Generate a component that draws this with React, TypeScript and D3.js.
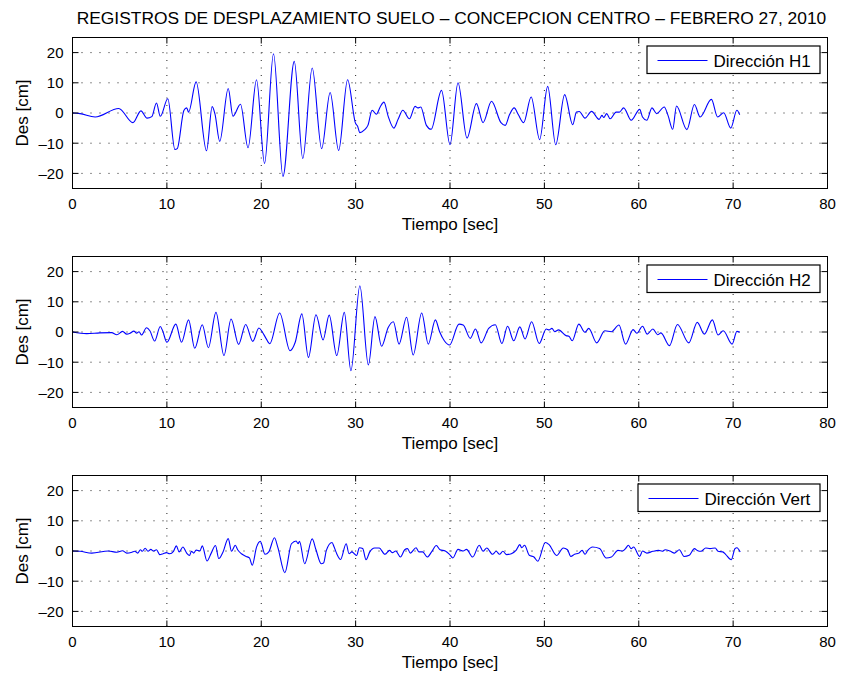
import React from 'react';
import * as d3 from 'd3';

const TITLE = 'REGISTROS DE DESPLAZAMIENTO SUELO \u2013 CONCEPCION CENTRO \u2013 FEBRERO 27, 2010';
const X_LABEL = 'Tiempo [sec]';
const Y_LABEL = 'Des [cm]';
const xTicks = [0, 10, 20, 30, 40, 50, 60, 70, 80];
const yTicks = [-20, -10, 0, 10, 20];
const xDomain = [0, 80];
const yDomain = [-25, 25];

// Dirección H1 (key points: time [s], displacement [cm])
const h1Time = [0, 0.8, 2.4, 4.9, 6.4, 7.25, 7.9, 8.4, 8.9, 9.3, 10.1, 10.85, 11.1, 11.8, 12.1, 12.3, 13.1, 14.2, 14.8, 15.1, 15.6, 16.5, 17.0, 17.8, 18.6, 19.5, 20.35, 21.3, 22.3, 23.5, 24.4, 25.4, 26.4, 27.3, 28.2, 29.15, 30.0, 30.2, 30.45, 30.9, 31.3, 31.75, 32.2, 32.6, 33.0, 33.45, 34.05, 34.5, 35.0, 35.7, 36.3, 36.6, 36.9, 37.5, 38.0, 39.1, 40.0, 40.85, 41.8, 42.8, 43.5, 44.4, 45.4, 45.85, 46.3, 46.8, 47.25, 47.8, 48.6, 49.5, 50.35, 51.2, 52.15, 53.0, 53.4, 53.7, 54.3, 55.0, 55.8, 56.1, 56.3, 56.6, 56.97, 57.6, 57.95, 58.4, 59.2, 60.1, 60.4, 60.85, 61.4, 61.9, 62.7, 63.1, 63.6, 64.0, 65.1, 65.9, 66.5, 67.7, 68.35, 69.0, 69.75, 70.4, 70.7];
const h1Disp = [0, -0.2, -1.3, 1.5, -3.2, 0.7, -1.7, -1.2, 3.3, -1.1, 4.7, -12.1, -11.8, 0.8, 1.7, 0.3, 10.3, -12.5, 2.1, -0.4, -9.4, 8.1, -1.1, 2.9, -11.5, 11.0, -16.7, 19.6, -21.0, 17.1, -15.1, 14.9, -11.8, 6.8, -12.4, 11.0, -3.5, -4.3, -6.5, -5.7, -4.1, 0.9, -0.4, 2.0, 3.6, -1.1, -5.0, -2.1, 0.9, -1.9, 2.2, 1.7, 2.0, -4.1, -5.4, 7.5, -10.5, 10.0, -8.3, 3.1, -3.2, 3.9, -3.2, -4.1, -0.6, 1.7, -0.6, -3.2, 5.3, -8.8, 8.8, -10.5, 6.1, -3.9, 0.3, 0.5, -1.7, 0.55, -2.1, -0.8, -1.5, -0.2, -1.9, 0.3, 0.3, 1.7, -2.4, 1.2, -1.3, -2.4, 1.7, -0.2, 2.0, -0.8, -5.4, 2.3, -5.5, 2.8, -1.3, 4.5, -1.3, 0.1, -5.0, 0.9, -0.55];

// Dirección H2
const h2Time = [0, 1.5, 2.9, 4.15, 4.7, 5.3, 5.75, 6.1, 6.5, 6.8, 7.05, 7.3, 7.85, 8.2, 8.7, 9.3, 9.55, 10.0, 10.95, 11.55, 12.3, 12.95, 13.75, 14.4, 15.2, 16.05, 16.8, 17.6, 18.35, 19.1, 19.75, 20.1, 20.5, 20.9, 21.95, 23.05, 23.6, 24.3, 25.0, 25.8, 26.55, 27.2, 28.0, 28.8, 29.5, 30.45, 31.35, 32.05, 32.75, 33.45, 34.0, 34.6, 35.4, 36.1, 37.0, 37.7, 38.45, 38.9, 39.4, 39.95, 40.95, 41.4, 42.15, 42.7, 43.3, 44.1, 44.8, 45.5, 46.1, 46.75, 47.4, 47.95, 48.65, 49.45, 50.2, 50.5, 50.8, 51.1, 51.5, 52.3, 52.6, 52.95, 53.65, 54.3, 54.7, 55.55, 56.4, 57.1, 57.9, 58.6, 59.4, 59.8, 60.4, 60.9, 61.5, 62.0, 62.35, 63.25, 64.1, 65.3, 66.2, 66.95, 67.8, 68.4, 68.95, 69.9, 70.4, 70.7];
const h2Disp = [0, -0.55, -0.3, -0.2, -0.9, 0.2, -0.7, -0.4, 0.3, -0.4, 0.1, -1.0, 1.4, 0.4, -3.0, 1.8, 0.4, -3.4, 2.6, -3.4, 4.0, -5.4, 2.4, -5.2, 6.5, -7.8, 4.3, -4.1, 2.5, -3.1, 1.3, 0.1, -2.1, -3.9, 6.3, -6.2, -3.4, 6.0, -8.4, 5.7, -2.6, 5.6, -7.8, 6.5, -12.8, 15.3, -10.9, 5.1, -4.7, 1.5, 3.4, -4.0, 4.9, -7.6, 6.3, -4.0, 4.0, 0.1, -2.9, -4.3, 2.6, 2.3, -2.1, 1.0, -3.6, 1.2, 2.4, -3.8, 1.9, -2.9, 1.7, -2.3, 3.4, -3.8, 1.0, 0.7, 1.2, 0.1, 0.7, -1.2, -1.4, -2.9, 2.6, -0.1, 1.2, -3.6, 0.4, 0.1, 2.3, -4.0, 0.8, -0.4, 1.9, -0.7, 1.0, -0.9, -0.3, -4.5, 2.5, -3.6, 3.2, -0.7, 4.0, -1.0, 0.4, -4.0, 0.2, -0.1];

// Dirección Vert
const vTime = [0, 0.8, 2.05, 3.8, 4.7, 5.3, 5.75, 6.3, 6.6, 6.9, 7.2, 7.4, 7.7, 8.0, 8.3, 8.55, 8.9, 9.25, 9.6, 9.95, 10.3, 10.7, 11.0, 11.3, 11.7, 12.1, 12.4, 12.6, 12.85, 13.1, 13.5, 13.75, 14.25, 14.7, 15.15, 15.5, 15.95, 16.5, 16.85, 17.25, 17.5, 17.9, 18.4, 18.75, 19.05, 19.5, 19.9, 20.4, 20.8, 21.4, 21.75, 22.5, 23.2, 23.7, 23.9, 24.05, 24.6, 25.4, 25.8, 26.35, 26.6, 26.9, 27.5, 27.7, 28.0, 28.4, 29.0, 29.3, 29.6, 29.85, 30.1, 30.4, 30.75, 31.1, 31.5, 32.0, 32.5, 33.1, 33.6, 33.9, 34.25, 34.75, 35.2, 35.5, 35.8, 36.4, 36.7, 37.1, 37.6, 38.05, 38.55, 38.95, 39.5, 39.95, 40.3, 40.85, 41.4, 41.75, 42.4, 43.1, 43.5, 43.9, 44.5, 44.9, 45.25, 45.6, 46.0, 46.5, 47.0, 47.4, 47.6, 47.9, 48.4, 48.9, 49.3, 50.1, 50.5, 51.3, 52.0, 52.45, 52.8, 53.2, 53.65, 54.0, 54.3, 54.6, 55.1, 55.85, 56.55, 57.1, 57.8, 58.3, 58.6, 58.9, 59.2, 59.45, 60.1, 60.4, 60.85, 61.5, 62.1, 62.5, 62.8, 63.3, 63.8, 64.3, 64.8, 65.35, 65.9, 66.2, 66.6, 67.1, 67.55, 68.1, 68.4, 68.9, 69.2, 69.8, 70.2, 70.4, 70.75];
const vDisp = [0, -0.1, -0.7, 0, -0.4, 0.1, -0.7, -0.4, -0.1, -0.7, 0.4, -0.1, 0.9, -0.1, 0.55, 0, 0.4, -1.2, -0.9, -0.55, -0.9, -0.1, 1.7, -0.3, 1.3, -0.7, -1.5, -0.1, -0.7, 0.3, 0, 1.7, -3.3, -0.7, 1.8, -2.5, -0.3, 4.1, -0.1, 1.9, 0.4, -0.9, -1.8, -2.3, -4.7, 1.3, 3.2, -1.1, -0.3, 4.4, 1.3, -7.2, 2.4, 3.3, 2.4, 3.2, -4.2, 4.0, 0.4, -4.2, -4.0, 0.2, 2.8, 1.5, -0.9, -2.8, 2.4, -0.9, -0.3, -0.9, -1.5, 1.1, 0.8, -2.9, -0.3, 1.0, 1.0, -1.1, 0.2, -0.55, 0, -2.0, 0.4, 0.8, -0.7, 1.1, -0.3, -0.3, -2.0, -0.3, 1.8, 0.4, 0, -1.1, -2.3, 0.55, 0, 0.55, -2.0, 1.9, -0.1, 1.0, -1.1, -0.1, -1.1, -0.1, -1.2, -0.9, 0.2, 2.1, 1.1, 1.9, -1.4, -2.0, -3.4, 2.8, 2.1, -1.5, 1.0, 0.4, -1.8, -1.1, -0.7, 0.2, -1.1, 0.2, 1.3, 0.8, -2.3, -2.0, 0.2, 0, 0.8, 1.9, 0.8, 1.3, -1.8, 0, -0.7, -0.1, 0.2, -0.1, 0.4, 0, -0.7, 0.4, -1.8, -1.4, 0.8, 0.2, -0.1, 1.0, 0.8, 1.0, -0.1, -0.3, -1.1, -2.9, 0.8, 1.1, -0.3];

const panels = [
  { time: h1Time, disp: h1Disp, label: 'Direcci\u00f3n H1', legendW: 173 },
  { time: h2Time, disp: h2Disp, label: 'Direcci\u00f3n H2', legendW: 173 },
  { time: vTime, disp: vDisp, label: 'Direcci\u00f3n Vert', legendW: 182 },
];

const W = 842;
const H = 675;
const LEFT = 72.5;
const RIGHT = 827.5;
const TOP0 = 37.5;
const STEP = 219;
const PH = 151;
const FONT = '"Liberation Sans", Arial, Helvetica, sans-serif';
const BLUE = '#0000ff';

function Panel({ idx, time, disp, label, legendW }) {
  const top = TOP0 + idx * STEP;
  const bottom = top + PH;
  const x = d3.scaleLinear().domain(xDomain).range([LEFT, RIGHT]);
  const y = d3.scaleLinear().domain(yDomain).range([bottom, top]);
  const pts = time.map((t, i) => [t, disp[i]]);
  const line = d3
    .line()
    .x((d) => x(d[0]))
    .y((d) => y(d[1]))
    .curve(d3.curveMonotoneX);
  const tickLen = 6;
  const lgX = RIGHT - 7.5 - legendW;
  const lgY = top + 8.5;
  const midY = (top + bottom) / 2;
  return (
    <g>
      {xTicks
        .filter((t) => t > xDomain[0] && t < xDomain[1])
        .map((t) => (
          <line key={'gx' + t} x1={x(t)} x2={x(t)} y1={top} y2={bottom} stroke="#222" strokeWidth={1} strokeDasharray="1 6.5" />
        ))}
      {yTicks.map((t) => (
        <line key={'gy' + t} x1={LEFT} x2={RIGHT} y1={y(t)} y2={y(t)} stroke="#222" strokeWidth={1} strokeDasharray="1 8" />
      ))}
      <path d={line(pts) || ''} fill="none" stroke={BLUE} strokeWidth={1.1} strokeLinejoin="round" />
      {xTicks.map((t) => (
        <g key={'tx' + t}>
          <line x1={x(t)} x2={x(t)} y1={bottom} y2={bottom - tickLen} stroke="#000" />
          <line x1={x(t)} x2={x(t)} y1={top} y2={top + tickLen} stroke="#000" />
          <text x={x(t)} y={bottom + 20.5} textAnchor="middle" fontSize={15} fontFamily={FONT} fill="#000">
            {String(t)}
          </text>
        </g>
      ))}
      {yTicks.map((t) => (
        <g key={'ty' + t}>
          <line x1={LEFT} x2={LEFT + tickLen} y1={y(t)} y2={y(t)} stroke="#000" />
          <line x1={RIGHT} x2={RIGHT - tickLen} y1={y(t)} y2={y(t)} stroke="#000" />
          <text x={LEFT - 9} y={y(t) + 5.3} textAnchor="end" fontSize={15} fontFamily={FONT} fill="#000">
            {t < 0 ? '\u2013' + Math.abs(t) : String(t)}
          </text>
        </g>
      ))}
      <rect x={LEFT} y={top} width={RIGHT - LEFT} height={PH} fill="none" stroke="#000" strokeWidth={1} />
      <text x={(LEFT + RIGHT) / 2} y={bottom + 41} textAnchor="middle" fontSize={17} fontFamily={FONT} fill="#000">
        {X_LABEL}
      </text>
      <text
        transform={`translate(${27.5},${midY}) rotate(-90)`}
        textAnchor="middle"
        fontSize={17}
        fontFamily={FONT}
        fill="#000"
      >
        {Y_LABEL}
      </text>
      <rect x={lgX} y={lgY} width={legendW} height={27.5} fill="#fff" stroke="#000" strokeWidth={1.2} />
      <line x1={lgX + 10.5} x2={lgX + 60.5} y1={lgY + 14.5} y2={lgY + 14.5} stroke={BLUE} strokeWidth={1.1} />
      <text x={lgX + 66.5} y={lgY + 20.5} fontSize={17} fontFamily={FONT} fill="#000">
        {label}
      </text>
    </g>
  );
}

export default function App() {
  return (
    <svg
      width={W}
      height={H}
      viewBox={`0 0 ${W} ${H}`}
      style={{ position: 'absolute', left: 0, top: 0, background: '#fff' }}
    >
      <rect x={0} y={0} width={W} height={H} fill="#fff" />
      <text x={(LEFT + RIGHT) / 2 + 1.5} y={24} textAnchor="middle" fontSize={17.4} fontFamily={FONT} fill="#000">
        {TITLE}
      </text>
      {panels.map((p, i) => (
        <Panel key={i} idx={i} {...p} />
      ))}
    </svg>
  );
}
